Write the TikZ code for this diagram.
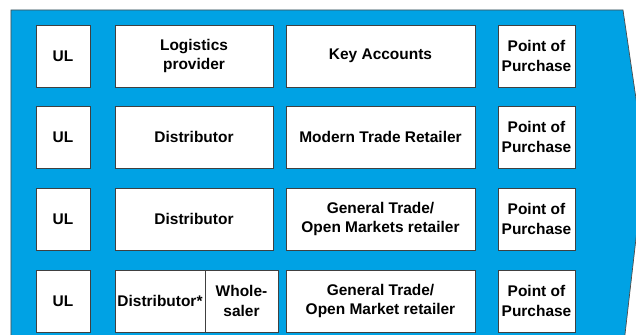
\documentclass[tikz,border=0pt]{standalone}
\usepackage{fontspec}
\setmainfont{Liberation Sans}
\definecolor{chanblue}{RGB}{0,162,228}
\begin{document}
\begin{tikzpicture}[every node/.style={font=\bfseries\fontsize{11}{13.8}\selectfont}]
  \tikzstyle{cell}=[draw=black!75,fill=white,line width=0.6pt,align=center,minimum height=1.55cm,inner sep=1pt]
  \useasboundingbox (0,0) rectangle (15.9,8.375);
  % arrow-shaped band behind the channels
  \filldraw[fill=chanblue,draw=black!70,line width=0.5pt] (0.275,-0.2) -- (0.275,8.125) -- (15.575,8.125) -- (16.125,4.375) -- (15.6,-0.2);
  % row 1
  \node[cell,minimum width=1.35cm] (ul1) at (1.575,6.975) {UL};
  \node[cell,minimum width=3.95cm] (lsp) at (4.85,6.975) {Logistics\\provider};
  \node[cell,minimum width=4.725cm] (key) at (9.5125,6.975) {Key Accounts};
  \node[cell,minimum width=1.925cm] (pop1) at (13.4125,6.975) {Point of\\Purchase};
  % row 2
  \node[cell,minimum width=1.35cm] (ul2) at (1.575,4.95) {UL};
  \node[cell,minimum width=3.95cm] (dist2) at (4.85,4.95) {Distributor};
  \node[cell,minimum width=4.725cm] (mtr) at (9.5125,4.95) {Modern Trade Retailer};
  \node[cell,minimum width=1.925cm] (pop2) at (13.4125,4.95) {Point of\\Purchase};
  % row 3
  \node[cell,minimum width=1.35cm] (ul3) at (1.575,2.9) {UL};
  \node[cell,minimum width=3.95cm] (dist3) at (4.85,2.9) {Distributor};
  \node[cell,minimum width=4.725cm] (gtr3) at (9.5125,2.9) {General Trade/\\Open Markets retailer};
  \node[cell,minimum width=1.925cm] (pop3) at (13.4125,2.9) {Point of\\Purchase};
  % row 4
  \node[cell,minimum width=1.35cm] (ul4) at (1.575,0.85) {UL};
  \node[cell,minimum width=2.25cm] (dist4) at (4.0,0.85) {Distributor*};
  \node[cell,minimum width=1.825cm] (whs) at (6.0375,0.85) {Whole-\\saler};
  \node[cell,minimum width=4.725cm] (gtr4) at (9.5125,0.85) {General Trade/\\Open Market retailer};
  \node[cell,minimum width=1.925cm] (pop4) at (13.4125,0.85) {Point of\\Purchase};
\end{tikzpicture}
\end{document}
